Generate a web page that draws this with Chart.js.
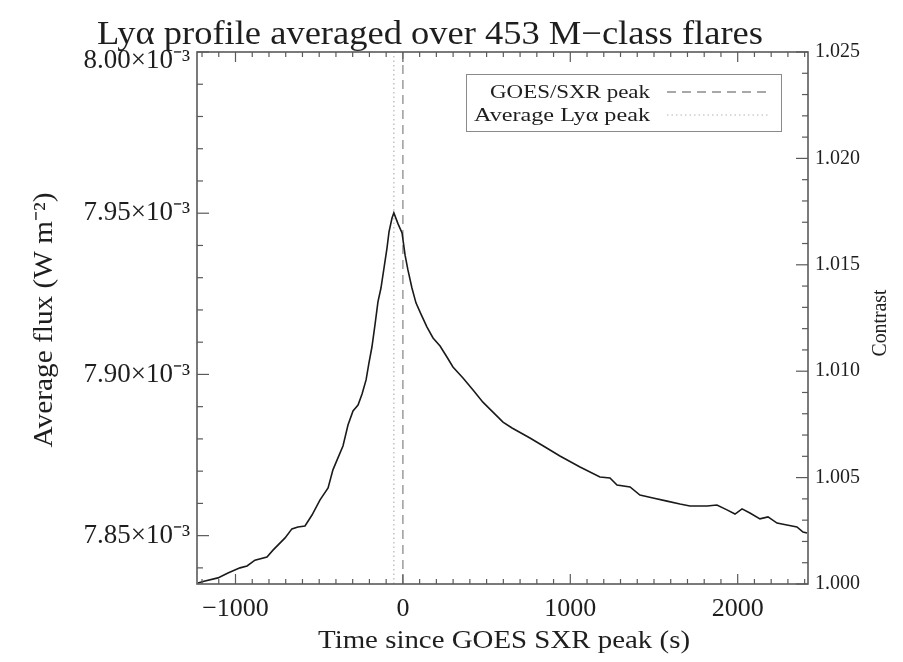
<!DOCTYPE html>
<html>
<head>
<meta charset="utf-8">
<script src="https://cdn.jsdelivr.net/npm/chart.js@4.4.0/dist/chart.umd.min.js"></script>
<style>
  html, body { margin: 0; padding: 0; background: #fff; }
  #wrap { width: 903px; height: 662px; }
</style>
</head>
<body>
<div id="wrap"><canvas id="chart1" width="903" height="662"></canvas></div>
<script>
// time since GOES SXR peak (s)
const times = [
  -1224, -1182, -1105, -1045, -973, -931, -884, -812, -776, -704,
  -663, -627, -585, -543, -495, -447, -418, -388, -358, -328,
  -298, -268, -244, -220, -203, -185, -167, -149, -131, -113,
  -95, -83, -65, -54, -29, -5, 13, 30, 54, 78,
  108, 144, 180, 222, 263, 299, 359, 419, 478, 538,
  598, 652, 759, 849, 938, 1058, 1177, 1237, 1279, 1357,
  1416, 1494, 1578, 1655, 1715, 1817, 1876, 1936, 1984, 2026,
  2073, 2133, 2181, 2235, 2294, 2354, 2390, 2414
];
// average Ly-alpha flux, units of 1e-3 W m^-2
const flux = [
  7.8353, 7.8359, 7.8369, 7.8384, 7.8400, 7.8406, 7.8424, 7.8434, 7.8455, 7.8493,
  7.8521, 7.8527, 7.8530, 7.8564, 7.8611, 7.8648, 7.8704, 7.8741, 7.8778, 7.8843,
  7.8887, 7.8905, 7.8939, 7.8983, 7.9035, 7.9085, 7.9153, 7.9225, 7.9268, 7.9330,
  7.9392, 7.9442, 7.9485, 7.9501, 7.9467, 7.9439, 7.9370, 7.9324, 7.9268, 7.9222,
  7.9187, 7.9147, 7.9113, 7.9088, 7.9054, 7.9023, 7.8989, 7.8952, 7.8914, 7.8883,
  7.8852, 7.8834, 7.8803, 7.8775, 7.8747, 7.8713, 7.8682, 7.8679, 7.8657, 7.8651,
  7.8626, 7.8617, 7.8607, 7.8598, 7.8592, 7.8592, 7.8595, 7.8580, 7.8567, 7.8583,
  7.8570, 7.8552, 7.8558, 7.8539, 7.8533, 7.8527, 7.8511, 7.8508
];
const goesPeak = 0;
const lyaPeak = -54;

const xTicks = [-1000, 0, 1000, 2000];
const fluxTicks = [7.85, 7.90, 7.95, 8.00];
const contrastTicks = [1.000, 1.005, 1.010, 1.015, 1.020, 1.025];
const legendLabels = ['GOES/SXR peak', 'Average Lyα peak'];

const xMin = -1230, xMax = 2420;
const yMin = 7.835, yMax = 8.0;
const cMin = 1.0, cMax = 1.025;

const SERIF = "'Liberation Serif', 'Times New Roman', serif";
const TEXT = '#1e1e1e';

// draws text squeezed/stretched to a given width
function fitText(ctx, text, x, y, size, width, align, rot) {
  ctx.save();
  ctx.font = size + 'px ' + SERIF;
  const w = ctx.measureText(text).width;
  ctx.translate(x, y);
  if (rot) ctx.rotate(rot);
  ctx.scale(width / w, 1);
  ctx.textAlign = align;
  ctx.textBaseline = 'alphabetic';
  ctx.fillStyle = TEXT;
  ctx.fillText(text, 0, 0);
  ctx.restore();
}

function seg(ctx, x1, y1, x2, y2) {
  ctx.beginPath();
  ctx.moveTo(x1, y1);
  ctx.lineTo(x2, y2);
  ctx.stroke();
}

// IDL style frame: inward ticks on all four sides, titles and legend
const idlFrame = {
  id: 'idlFrame',
  beforeDraw(chart) {
    // top flux label sits a bit lower, below the title
    const items = chart.scales.y.getLabelItems();
    const top = items[items.length - 1];
    if (top && !top._moved) {
      top.options.translation[1] += 9;
      top._moved = true;
    }
  },
  afterDatasetsDraw(chart) {
    const {ctx, chartArea: a, scales} = chart;
    ctx.save();
    ctx.strokeStyle = '#5a5a5a';
    ctx.lineWidth = 1.2;
    for (let t = -1200; t <= 2400; t += 100) {
      const px = scales.x.getPixelForValue(t);
      const len = t % 1000 === 0 ? 10 : 5;
      seg(ctx, px, a.bottom, px, a.bottom - len);
      seg(ctx, px, a.top, px, a.top + len);
    }
    for (let k = 784; k <= 800; k++) {
      const py = scales.y.getPixelForValue(k / 100);
      const len = k % 5 === 0 ? 12 : 6;
      seg(ctx, a.left, py, a.left + len, py);
    }
    for (let k = 1000; k <= 1025; k++) {
      const py = scales.y1.getPixelForValue(k / 1000);
      const len = k % 5 === 0 ? 12 : 6;
      seg(ctx, a.right, py, a.right - len, py);
    }
    ctx.lineWidth = 1.6;
    ctx.strokeRect(a.left, a.top, a.right - a.left, a.bottom - a.top);

    // legend
    ctx.lineWidth = 1;
    ctx.strokeStyle = '#8a8a8a';
    ctx.strokeRect(466.5, 74.5, 315, 57);
    const ds = chart.data.datasets;
    [1, 2].forEach((i, row) => {
      const y = 92 + row * 23;
      fitText(ctx, legendLabels[row], 650, y + 6, 19, row === 0 ? 160 : 176, 'right');
      ctx.save();
      ctx.strokeStyle = ds[i].borderColor;
      ctx.lineWidth = ds[i].borderWidth;
      ctx.setLineDash(ds[i].borderDash);
      seg(ctx, 667, y, 768, y);
      ctx.restore();
    });

    // titles
    fitText(ctx, 'Lyα profile averaged over 453 M\u2212class flares', 430, 44, 33, 666, 'center');
    fitText(ctx, 'Time since GOES SXR peak (s)', 504, 648, 26, 372, 'center');
    fitText(ctx, 'Average flux (W m\u207B\u00B2)', 52, 320, 27, 255, 'center', -Math.PI / 2);
    fitText(ctx, 'Contrast', 886, 323, 20, 67, 'center', -Math.PI / 2);
    ctx.restore();
  }
};

const ctx = document.getElementById('chart1').getContext('2d');
const chart1 = new Chart(ctx, {
  type: 'line',
  data: {
    datasets: [
      {
        label: 'Lyα flux',
        data: times.map((t, i) => ({x: t, y: flux[i]})),
        borderColor: '#1a1a1a',
        borderWidth: 1.6,
        pointRadius: 0,
        tension: 0,
        yAxisID: 'y'
      },
      {
        label: legendLabels[0],
        data: [{x: goesPeak, y: yMin}, {x: goesPeak, y: yMax}],
        borderColor: '#8c8c8c',
        borderWidth: 1.3,
        borderDash: [9, 6],
        pointRadius: 0,
        yAxisID: 'y'
      },
      {
        label: legendLabels[1],
        data: [{x: lyaPeak, y: yMin}, {x: lyaPeak, y: yMax}],
        borderColor: '#b4b4b4',
        borderWidth: 1.2,
        borderDash: [1.5, 3],
        pointRadius: 0,
        yAxisID: 'y'
      }
    ]
  },
  options: {
    responsive: false,
    animation: false,
    events: [],
    layout: { padding: { top: 52, left: 0, right: 0, bottom: 0 } },
    plugins: { legend: { display: false }, title: { display: false }, tooltip: { enabled: false } },
    scales: {
      x: {
        type: 'linear',
        min: xMin,
        max: xMax,
        grid: { display: false, drawTicks: false },
        border: { display: false },
        afterBuildTicks: (s) => { s.ticks = xTicks.map(v => ({value: v})); },
        afterFit: (s) => { s.height = 78; },
        ticks: {
          padding: 10,
          maxRotation: 0,
          autoSkip: false,
          color: TEXT,
          font: { family: SERIF, size: 26 },
          callback: (v) => v < 0 ? '\u2212' + Math.abs(v) : String(v)
        }
      },
      y: {
        position: 'left',
        min: yMin,
        max: yMax,
        grid: { display: false, drawTicks: false },
        border: { display: false },
        afterBuildTicks: (s) => { s.ticks = fluxTicks.map(v => ({value: v})); },
        afterFit: (s) => { s.width = 197; },
        ticks: {
          padding: 7,
          color: TEXT,
          font: { family: SERIF, size: 27 },
          callback: (v) => v.toFixed(2) + '\u00D710\u207B\u00B3'
        }
      },
      y1: {
        position: 'right',
        min: cMin,
        max: cMax,
        grid: { display: false, drawTicks: false },
        border: { display: false },
        afterBuildTicks: (s) => { s.ticks = contrastTicks.map(v => ({value: v})); },
        afterFit: (s) => { s.width = 95; },
        ticks: {
          padding: 7,
          color: TEXT,
          font: { family: SERIF, size: 20 },
          callback: (v) => v.toFixed(3)
        }
      }
    }
  },
  plugins: [idlFrame]
});
</script>
</body>
</html>
